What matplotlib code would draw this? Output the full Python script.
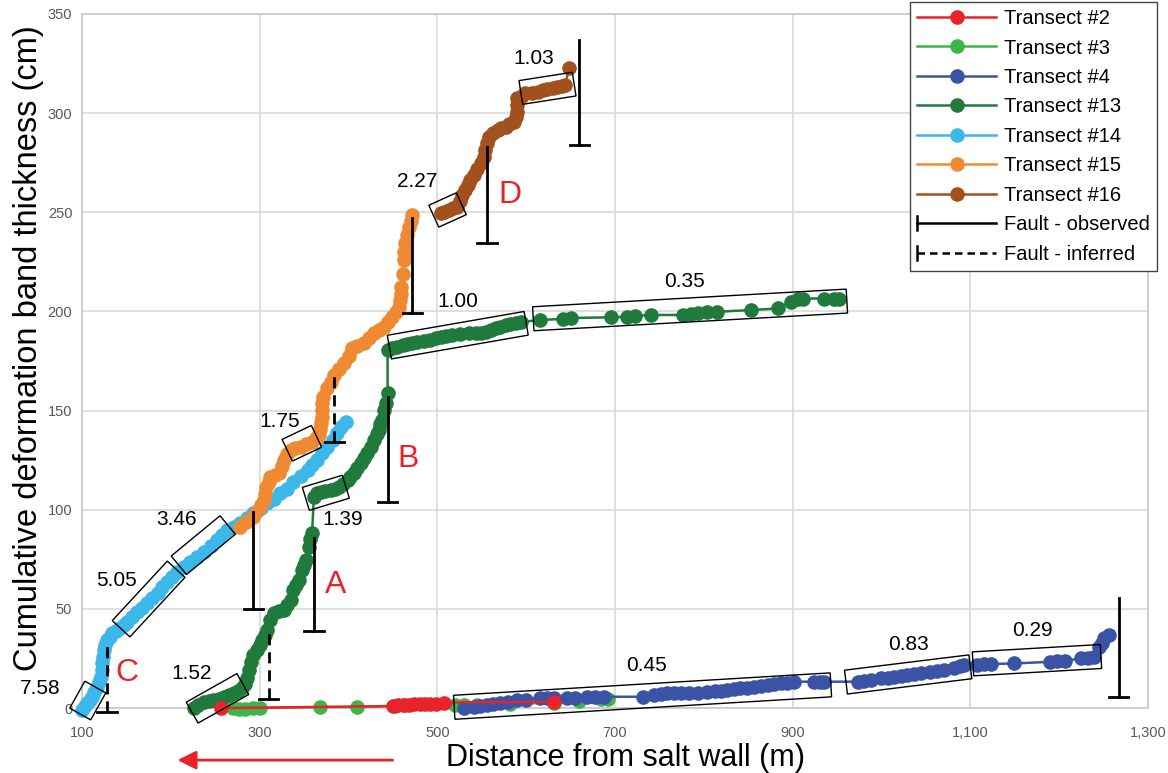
import numpy as np
import matplotlib
matplotlib.use("Agg")
import matplotlib.pyplot as plt
from matplotlib.lines import Line2D
from matplotlib.patches import Polygon

plt.rcParams['font.family'] = ['Liberation Sans', 'DejaVu Sans']

# --- data (distance m, cumulative thickness cm) ---
t2_x = [257, 450, 456, 462, 468, 474, 480, 486, 492, 498, 508, 631]
t2_y = [0.0, 1.0, 1.3, 1.5, 1.6, 1.8, 2.0, 2.1, 2.2, 2.3, 2.8, 3.2]

t3_x = [270, 277, 284, 292, 300, 368, 410, 452, 462, 520, 530, 545, 582, 631, 660, 684, 692]
t3_y = [0.0, -0.3, -0.3, 0.0, 0.0, 0.5, 0.5, 1.2, 1.4, 1.5, 1.6, 1.7, 2.0, 2.8, 3.6, 4.5, 4.8]

t4_x = [530, 541, 548, 556, 563, 571, 580, 590, 600, 616, 624, 631, 646, 655, 669, 678, 688,
        732, 744, 752, 759, 766, 774, 783, 793, 804, 812, 819, 826, 834, 841, 849, 856, 864,
        872, 879, 887, 894, 902, 924, 931, 935, 973, 980, 988, 999, 1007, 1014, 1022, 1029,
        1037, 1044, 1055, 1063, 1070, 1082, 1088, 1093, 1108, 1115, 1123, 1149, 1190, 1198,
        1206, 1224, 1232, 1239, 1245, 1248, 1251, 1256]
t4_y = [-0.2, 0.7, 1.0, 1.5, 2.0, 2.4, 3.2, 4.0, 4.3, 4.9, 4.9, 4.9, 4.9, 5.2, 5.7, 5.7, 5.7,
        5.7, 6.6, 7.0, 7.4, 7.4, 7.4, 7.4, 7.4, 8.2, 8.5, 8.8, 9.1, 9.5, 9.9, 10.3, 10.7, 11.1,
        11.6, 12.0, 12.4, 12.8, 13.3, 13.3, 13.3, 13.3, 13.3, 13.7, 14.1, 15.0, 15.2, 15.5, 16.0, 16.6,
        17.0, 17.5, 18.3, 18.8, 19.2, 20.0, 21.0, 21.5, 21.7, 22.0, 22.2, 22.5, 23.3, 23.5,
        23.8, 25.0, 25.4, 25.9, 30.9, 33.0, 35.1, 36.8]

t13_x = [226, 231, 237, 243, 248, 254, 260, 265, 271, 276, 280, 284, 286, 288, 290, 292, 297,
         300, 303, 306, 308, 312, 316, 322, 327, 331, 335, 338, 341, 344, 348, 350, 352, 355,
         357, 359, 361, 365, 369, 374, 380, 385, 389, 394, 399, 402, 406, 410, 414, 418, 421,
         425, 429, 432, 434, 436, 438, 440, 442, 444, 444, 449, 455, 461, 466, 472, 477, 485,
         492, 498, 504, 510, 517, 526, 536, 543, 549, 555, 560, 566, 571, 577, 582, 588, 594,
         616, 642, 650, 695, 714, 723, 740, 777, 785, 793, 804, 815, 853, 884, 898, 906, 912,
         935, 946, 952]
t13_y = [-0.2, 1.5, 3.2, 3.6, 4.0, 4.8, 5.7, 6.5, 7.4, 8.5, 9.9, 12.0, 15.0, 19.2, 23.0, 26.7, 29.2,
         32.0, 34.3, 37.0, 39.3, 44.4, 47.8, 48.8, 49.4, 52.0, 54.5, 59.5, 62.0, 64.5, 69.6, 72.0, 74.6, 81.3,
         85.0, 88.1, 106.6, 108.5, 109.1, 109.5, 109.9, 110.7, 111.6, 113.0, 115.0, 116.5, 118.4, 121.0, 123.4, 126.0, 128.4,
         131.5, 135.1, 138.0, 140.2, 143.0, 145.2, 150.3, 154.0, 158.7, 180.5, 181.3, 182.2, 183.0, 183.8, 184.2, 184.6, 185.1,
         185.6, 186.4, 187.2, 187.6, 188.1, 188.5, 188.9, 188.9, 188.9, 189.8, 190.6, 191.4, 192.3, 193.1, 193.9, 194.3, 194.7,
         195.7, 196.2, 196.7, 197.0, 197.3, 197.8, 198.2, 198.2, 198.6, 199.0, 199.5, 199.8, 200.7, 201.5, 204.8, 206.2, 206.5,
         206.5, 206.5, 206.5]

t14_x = [100, 103, 106, 109, 111, 114, 117, 119, 121, 122, 123, 124, 124.5, 126, 128, 131, 134,
         138, 143, 147, 151, 156, 162, 168, 173, 179, 185, 190, 196, 201, 207, 215, 222, 230,
         237, 245, 252, 258, 263, 271, 278, 286, 293, 301, 308, 316, 323, 331, 338, 346, 354,
         359, 365, 370, 376, 382, 387, 392, 397]
t14_y = [-1.0, 0.8, 2.4, 4.0, 5.7, 8.0, 10.7, 13.0, 15.8, 19.0, 22.5, 26.0, 29.2, 32.0, 34.3, 36.0, 37.7,
         39.0, 40.2, 41.8, 43.5, 46.0, 48.6, 50.7, 52.8, 55.3, 57.8, 60.8, 63.7, 66.2, 68.7, 71.2, 73.8, 76.3,
         78.8, 81.8, 84.7, 87.2, 89.8, 91.5, 93.1, 95.7, 98.2, 100.7, 103.2, 105.5, 108.3, 110.5, 114.1, 117.0, 120.0,
         122.5, 125.1, 128.4, 131.8, 135.0, 138.5, 141.5, 144.4]

t15_x = [278, 285, 292, 297, 301, 305, 306, 307, 310, 312, 317, 322, 325, 327, 331, 335, 340,
         346, 352, 359, 363, 367, 368, 369, 370, 370.5, 370.5, 371, 376, 380, 384, 389, 395,
         400, 404, 410, 417, 423, 429, 434, 440, 445, 449, 453, 457, 458, 459, 459, 461, 462,
         463, 464, 466, 468, 470, 472]
t15_y = [91.4, 94.0, 96.5, 99.5, 102.4, 104.9, 108.0, 111.6, 114.0, 116.6, 117.5, 118.4, 122.0, 125.1, 128.0, 130.1, 131.0,
         131.8, 133.0, 134.3, 136.0, 137.7, 140.5, 143.6, 147.0, 150.3, 154.0, 157.0, 161.2, 164.5, 167.9, 171.0, 173.8,
         177.5, 181.4, 182.6, 183.9, 186.5, 188.9, 190.6, 192.3, 194.8, 197.3, 199.8, 202.4, 205.7, 209.0, 212.5, 219.0, 225.9,
         230.0, 234.3, 238.5, 242.7, 245.6, 248.6]

t16_x = [504, 508, 513, 518, 522, 525, 528, 531, 534, 537, 541, 545, 549, 552, 554, 556, 558,
         563, 568, 572, 577, 581, 586, 588, 590, 590, 590, 595, 599, 606, 613, 619, 624, 630,
         635, 640, 644, 648]
t16_y = [249.4, 250.3, 251.1, 252.0, 252.8, 255.7, 258.7, 261.2, 263.7, 266.3, 268.8, 271.7, 274.6, 278.0, 281.4, 284.8, 288.1,
         289.8, 291.5, 292.3, 293.1, 294.4, 295.7, 298.0, 300.7, 304.0, 307.4, 308.6, 309.9, 310.3, 310.8, 311.4, 312.0, 312.6,
         313.3, 313.7, 314.1, 322.5]

# faults: x, bottom, top, observed?
fault_x = [128, 310, 293, 361, 444, 384, 472, 556, 660, 1267]
fault_bottom = [-2, 4.5, 50, 39, 104, 134, 199, 234.5, 284, 5.5]
fault_top = [33, 38, 99, 86, 157, 168, 247, 283, 337, 55.5]
fault_observed = [False, False, True, True, True, False, True, True, True, True]

# slope boxes: start, end (data), value label and its position
box_start = [(98, -3), (144, 40), (209, 72), (224, -2.3), (352, 105.5), (331, 130), (446, 182),
             (608, 196.3), (496, 248), (594, 310.4), (519, 0.4), (960, 13.1), (1103, 22.3)]
box_end = [(115, 10.6), (206, 70), (264, 92.3), (281, 12.1), (397, 111.6), (364, 137), (600, 194),
           (961, 205.2), (527, 254.3), (654, 314.6), (943, 11.7), (1100, 20.8), (1247, 26)]
box_value = ['7.58', '5.05', '3.46', '1.52', '1.39', '1.75', '1.00', '0.35', '2.27', '1.03',
             '0.45', '0.83', '0.29']
value_pos = [(53, 10), (139, 64.5), (207, 95), (223, 17.5), (393, 95), (322, 144.4), (523, 205),
             (778, 215), (477, 265.4), (609, 327.6), (735, 21.7), (1030, 31.8), (1170, 39)]

fault_letters = ['A', 'B', 'C', 'D']
letter_pos = [(385, 62), (467, 125.4), (151, 17.8), (582, 258.7)]

series = [
    ('Transect #2', t2_x, t2_y, '#E8232A', 5),
    ('Transect #3', t3_x, t3_y, '#3DB54A', 3),
    ('Transect #4', t4_x, t4_y, '#3A53A4', 4),
    ('Transect #13', t13_x, t13_y, '#1F7A3B', 3),
    ('Transect #14', t14_x, t14_y, '#3CB7EA', 3),
    ('Transect #15', t15_x, t15_y, '#EF8A33', 3.5),
    ('Transect #16', t16_x, t16_y, '#A3501F', 3),
]

fig = plt.figure(figsize=(11.68, 7.73), dpi=100)
ax = fig.add_axes([0.0702, 0.084, 0.9127, 0.898])

handles = []
for name, xs, ys, col, z in series:
    ln, = ax.plot(xs, ys, '-o', color=col, lw=1.8, ms=10.5, mew=0, label=name,
                  zorder=z, clip_on=False)
    handles.append(ln)

ax.set_xlim(100, 1300)
ax.set_ylim(0, 350)
ax.set_xticks(range(100, 1301, 200))
ax.set_xticklabels(['100', '300', '500', '700', '900', '1,100', '1,300'])
ax.set_yticks(range(0, 351, 50))
ax.tick_params(length=0, labelsize=10.5, labelcolor='#595959')
ax.tick_params(axis='x', pad=13)
ax.tick_params(axis='y', pad=7)
ax.grid(True, color='#D9D9D9', lw=1.2)
ax.set_axisbelow(True)
for s in ax.spines.values():
    s.set_color('#C8C8C8')
    s.set_linewidth(1.2)

ax.set_ylabel('Cumulative deformation band thickness (cm)', fontsize=23.5)
ax.yaxis.set_label_coords(-0.036, 0.518)
ax.set_xlabel('Distance from salt wall (m)', fontsize=22)
ax.xaxis.set_label_coords(0.51, -0.05)

# red arrow pointing toward the salt wall
ax.annotate('', xy=(0.087, -0.075), xytext=(0.294, -0.075), xycoords='axes fraction',
            arrowprops=dict(arrowstyle='-|>', color='#E8232A', lw=2, mutation_scale=28),
            annotation_clip=False)

# faults
for x, lo, hi, obs in zip(fault_x, fault_bottom, fault_top, fault_observed):
    ls = '-' if obs else (0, (4, 2.5))
    ax.plot([x, x], [lo, hi], color='black', lw=2, ls=ls, zorder=7, clip_on=False)
    ax.plot([x - 11, x + 11], [lo, lo], color='black', lw=2, zorder=7, clip_on=False)

# rotated boxes around the fitted segments
def band_box(p0, p1, half=12):
    a, b = ax.transData.transform([p0, p1])
    d = (b - a) / np.hypot(*(b - a))
    n = np.array([-d[1], d[0]]) * half
    pts = np.array([a + n, b + n, b - n, a - n])
    ax.add_patch(Polygon(ax.transData.inverted().transform(pts), closed=True, fill=False,
                         ec='black', lw=1, zorder=8, clip_on=False))

for p0, p1 in zip(box_start, box_end):
    band_box(p0, p1)

for txt, (x, y) in zip(box_value, value_pos):
    ax.text(x, y, txt, fontsize=15, ha='center', va='center', zorder=9, clip_on=False)

for txt, (x, y) in zip(fault_letters, letter_pos):
    ax.text(x, y, txt, fontsize=23, color='#E8232A', ha='center', va='center', zorder=9)

# legend with custom fault entries
class FaultHandler:
    def __init__(self, ls):
        self.ls = ls

    def legend_artist(self, legend, orig_handle, fontsize, handlebox):
        x0, y0 = handlebox.xdescent, handlebox.ydescent
        w, h = handlebox.width, handlebox.height
        line = Line2D([x0, x0 + w], [y0 + h / 2] * 2, color='black', lw=1.8, ls=self.ls,
                      transform=handlebox.get_transform())
        cap = Line2D([x0, x0], [y0, y0 + h], color='black', lw=1.8,
                     transform=handlebox.get_transform())
        handlebox.add_artist(line)
        handlebox.add_artist(cap)
        return line

obs_h = Line2D([], [], color='black')
inf_h = Line2D([], [], color='black', ls='--')
leg = ax.legend(handles + [obs_h, inf_h],
                [h.get_label() for h in handles] + ['Fault - observed', 'Fault - inferred'],
                handler_map={obs_h: FaultHandler('-'), inf_h: FaultHandler((0, (3, 2)))},
                loc='upper right', bbox_to_anchor=(0.9906, 0.9974), bbox_transform=fig.transFigure,
                fontsize=14.5, numpoints=1, handlelength=3.9, handletextpad=0.4,
                labelspacing=0.52, borderpad=0.35, borderaxespad=0, fancybox=False, framealpha=1,
                edgecolor='#444444')
leg.get_frame().set_linewidth(1)
leg.set_zorder(10)

fig.savefig('out.png', dpi=100)
